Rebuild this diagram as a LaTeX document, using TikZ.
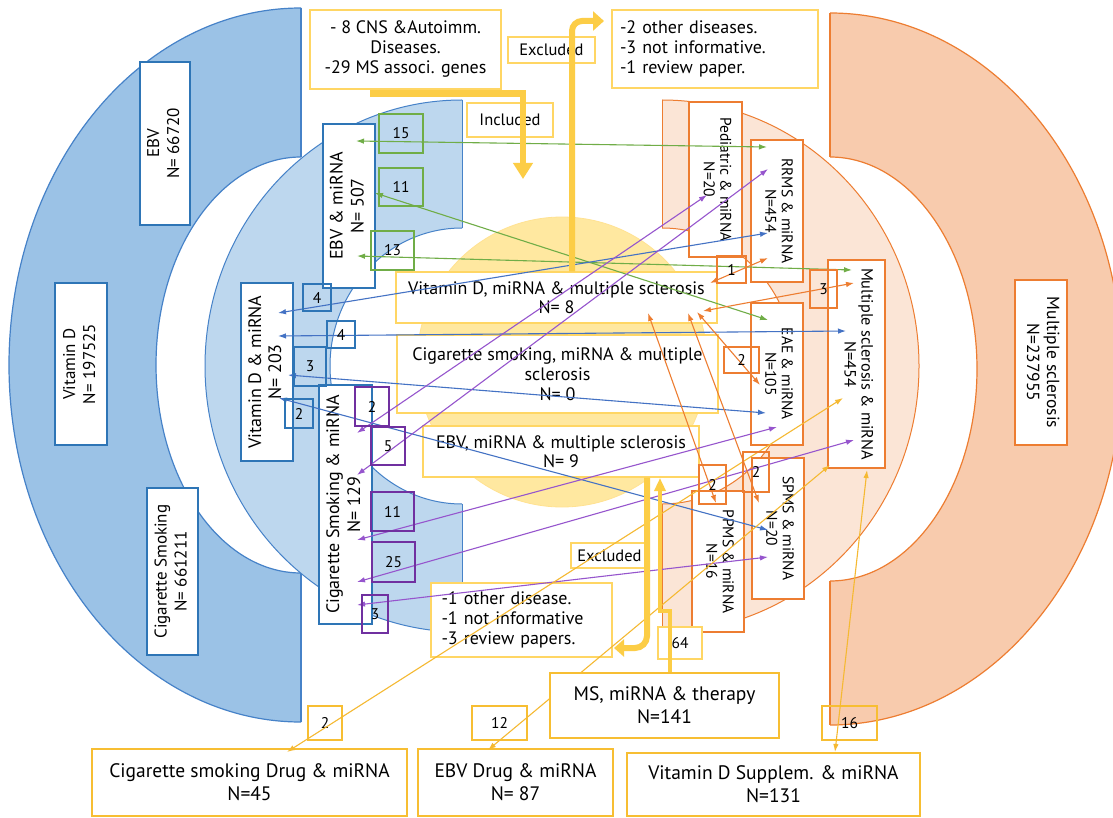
\documentclass[tikz,border=0pt]{standalone}
\usepackage{fontspec}
\setmainfont{PT Sans}
\usepackage{graphicx}
\usetikzlibrary{arrows.meta,calc}

\definecolor{ringblue}{RGB}{155,194,230}
\definecolor{ringbluedraw}{RGB}{70,130,200}
\definecolor{lightblue}{RGB}{189,215,238}
\definecolor{ringorange}{RGB}{248,203,173}
\definecolor{ringorangedraw}{RGB}{237,125,49}
\definecolor{lightorange}{RGB}{251,229,214}
\definecolor{discyellow}{RGB}{255,232,160}
\definecolor{yelbd}{RGB}{255,214,100}
\definecolor{yelthick}{RGB}{247,190,50}
\definecolor{flowyel}{RGB}{252,205,70}
\definecolor{boxblue}{RGB}{46,117,182}
\definecolor{boxgreen}{RGB}{112,173,71}
\definecolor{boxpurple}{RGB}{112,48,160}
\definecolor{arrgreen}{RGB}{112,173,71}
\definecolor{arrblue}{RGB}{68,114,196}
\definecolor{arrpurple}{RGB}{150,85,205}
\definecolor{arrorange}{RGB}{237,125,49}
\definecolor{arryellow}{RGB}{245,185,50}

\newcommand\fs[2]{\fontsize{#1}{#2}\selectfont}
\newcommand\rotL[1]{\rotatebox{90}{\begin{tabular}{@{}c@{}}#1\end{tabular}}}
\newcommand\rotR[1]{\rotatebox{-90}{\begin{tabular}{@{}c@{}}#1\end{tabular}}}
% style, x1, y1, x2, y2, text, name
\newcommand\mkbox[7]{\node[#1, minimum width={#4-#2}, minimum height={#5-#3}] (#7) at ({(#2+#4)/2},{(#3+#5)/2}) {#6};}
% colour, x1, y1, x2, y2, name
\newcommand\lnk[6]{\coordinate (#6a) at (#2,#3); \coordinate (#6b) at (#4,#5); \draw[link,#1] (#6a) -- (#6b);}

\tikzset{
  box/.style={draw, fill=white, inner sep=0pt, align=center, line width=1.4pt},
  bbox/.style={box, draw=boxblue},
  obox/.style={box, draw=ringorangedraw, font=\fs{15.5}{16.5}},
  ybox/.style={box, draw=yelbd, line width=1.3pt},
  ybig/.style={box, draw=yelthick, line width=2.4pt, font=\fs{19.5}{23}},
  nb/.style={draw, inner sep=0pt, line width=1.3pt, font=\fs{15.5}{17}},
  link/.style={line width=1.1pt, {Latex[length=8pt,width=5.5pt]}-{Latex[length=8pt,width=5.5pt]}},
  flow/.style={draw=flowyel, line width=6.5pt},
}

\begin{document}
\begin{tikzpicture}[x=1pt,y=-1pt]
\useasboundingbox (0,0) rectangle (1113,818);
\fill[white] (0,0) rectangle (1113,818);

% outer blue ring
\begin{scope}
  \clip (0,0) rectangle (301,818);
  \path[fill=ringblue, draw=ringbluedraw, line width=1.2pt, even odd rule]
    (301,365) ellipse[x radius=292, y radius=357]
    (301,365) ellipse[x radius=145, y radius=208];
\end{scope}
\draw[ringbluedraw, line width=1.2pt] (301,8) -- (301,157) (301,573) -- (301,722);

% outer orange ring
\begin{scope}
  \clip (830,0) rectangle (1113,818);
  \path[fill=ringorange, draw=ringorangedraw, line width=1.2pt, even odd rule]
    (830,369) ellipse[x radius=292, y radius=356]
    (830,369) ellipse[x radius=147, y radius=212];
\end{scope}
\draw[ringorangedraw, line width=1.2pt] (830,13) -- (830,157) (830,581) -- (830,725);

% light blue half ring
\begin{scope}
  \clip (0,0) rectangle (462,818);
  \path[fill=lightblue, draw=ringbluedraw, line width=1pt, even odd rule]
    (462,366) ellipse[x radius=257, y radius=266]
    (462,366) ellipse[x radius=132, y radius=138];
\end{scope}
\draw[ringbluedraw, line width=1pt] (462,100) -- (462,228) (462,504) -- (462,632);

% light orange half ring
\begin{scope}
  \clip (662,0) rectangle (1113,818);
  \path[fill=lightorange, draw=ringorangedraw, line width=1pt, even odd rule]
    (662,366) ellipse[x radius=257, y radius=266]
    (662,366) ellipse[x radius=132, y radius=138];
\end{scope}
\draw[ringorangedraw, line width=1pt] (662,100) -- (662,228) (662,504) -- (662,632);

% yellow disc
\path[fill=discyellow, draw=yelbd!70, line width=0.8pt] (562,362) circle[radius=145];

% blue boxes
\mkbox{bbox,font=\fs{17}{20}}{140}{62}{190}{225}{\rotL{EBV\\N= 66720}}{ebvout}
\mkbox{bbox,font=\fs{17}{20}}{55}{283}{107}{445}{\rotL{Vitamin D\\N= 197525}}{vdout}
\mkbox{bbox,font=\fs{17}{20}}{147}{488}{198}{655}{\rotL{Cigarette Smoking\\N= 661211}}{csout}
\mkbox{bbox,font=\fs{18}{21}}{323}{124}{375}{288}{\rotL{EBV \& miRNA\\N= 507}}{ebvmir}
\mkbox{bbox,font=\fs{18}{20}}{241}{283}{293}{461}{\rotL{Vitamin D \& miRNA\\N= 203}}{vdmir}
\mkbox{bbox,font=\fs{18}{21}}{319}{385}{372}{624}{\rotL{Cigarette Smoking \& miRNA\\N= 129}}{csmir}

% orange boxes
\mkbox{obox}{689}{102}{742}{257}{\rotR{Pediatric \& miRNA\\N=20}}{ped}
\mkbox{obox}{751}{140}{803}{282}{\rotR{RRMS \& miRNA\\N=454}}{rrms}
\mkbox{obox,font=\fs{16.3}{17}}{828}{260}{885}{468}{\rotR{Multiple sclerosis \& miRNA\\N=454}}{msmir}
\mkbox{obox}{751}{303}{803}{445}{\rotR{EAE \& miRNA\\N=105}}{eae}
\mkbox{obox}{752}{458}{804}{599}{\rotR{SPMS \& miRNA\\N=20}}{spms}
\mkbox{obox}{692}{491}{744}{632}{\rotR{PPMS \& miRNA\\N=16}}{ppms}
\mkbox{obox,font=\fs{17.5}{20}}{1015}{280}{1067}{445}{\rotR{Multiple sclerosis\\N=237955}}{msout}

% yellow boxes
\mkbox{ybox,font=\fs{18}{20}}{310}{10}{501}{89}{- 8 CNS \&Autoimm.\\Diseases.\\-29 MS associ. genes}{topl}
\mkbox{ybox,font=\fs{16.5}{18}}{508}{37}{595}{63}{Excluded}{extop}
\mkbox{ybox,font=\fs{16.5}{18}}{467}{103}{553}{137}{Included}{incl}
\mkbox{ybox,font=\fs{18}{20},align=left,text width=190pt}{612}{10}{818}{88}{-2 other diseases.\\-3 not informative.\\-1 review paper.}{topr}
\mkbox{ybox,font=\fs{18}{19}}{396}{272}{717}{323}{Vitamin D, miRNA \& multiple sclerosis\\N= 8}{vdc}
\mkbox{ybox,font=\fs{18}{20}}{397}{335}{718}{413}{Cigarette smoking, miRNA \& multiple\\sclerosis\\N= 0}{csc}
\mkbox{ybox,font=\fs{18}{19}}{423}{426}{699}{477}{EBV, miRNA \& multiple sclerosis\\N= 9}{ebvc}
\mkbox{ybox,font=\fs{16.5}{18}}{571}{543}{648}{568}{Excluded}{exbot}
\mkbox{ybox,font=\fs{18}{20},align=left,text width=160pt}{431}{583}{612}{657}{-1 other disease.\\-1 not informative\\-3 review papers.}{botl}
\mkbox{ybox,font=\fs{15.5}{17}}{658}{627}{702}{659}{64}{n64}
\mkbox{ybig}{92}{749}{407}{816}{Cigarette smoking Drug \& miRNA\\N=45}{cigdrug}
\mkbox{ybig}{418}{749}{613}{816}{EBV Drug \& miRNA\\N= 87}{ebvdrug}
\mkbox{ybig}{627}{753}{920}{816}{Vitamin D Supplem. \& miRNA\\N=131}{vdsupp}
\mkbox{box,draw=yelthick,line width=2.2pt,fill=none,font=\fs{15.5}{17}}{308}{706}{342}{740}{2}{ny2}
\mkbox{box,draw=yelthick,line width=2.2pt,fill=none,font=\fs{15.5}{17}}{472}{706}{527}{740}{12}{ny12}
\mkbox{box,draw=yelthick,line width=2.2pt,fill=none,font=\fs{15.5}{17}}{822}{706}{877}{740}{16}{ny16}

% thin connectors
\lnk{arrgreen}{356}{141}{767}{147}{g15}
\lnk{arrgreen}{375}{193}{768}{320}{g11}
\lnk{arrgreen}{357}{256}{852}{270}{g13}
\lnk{arrblue}{278}{313}{768}{233}{b4a}
\lnk{arrblue}{278}{336}{846}{331}{b4b}
\lnk{arrblue}{288}{375}{766}{413}{b3}
\lnk{arrblue}{279}{398}{768}{530}{b2}
\lnk{arrpurple}{357}{433}{707}{195}{p2}
\lnk{arrpurple}{357}{475}{768}{169}{p5}
\lnk{arrpurple}{357}{540}{777}{427}{p11}
\lnk{arrpurple}{357}{582}{854}{440}{p25}
\lnk{arrpurple}{357}{605}{768}{557}{p3}
\lnk{arrorange}{768}{258}{710}{283}{o1}
\lnk{arrorange}{854}{283}{703}{311}{o3}
\lnk{arrorange}{648}{313}{716}{503}{oppms}
\lnk{arrorange}{688}{313}{759}{503}{ospms}
\lnk{arrorange}{697}{312}{760}{385}{oeae}
\lnk{arryellow}{287}{752}{843}{398}{y2}
\lnk{arryellow}{488}{750}{830}{465}{y12}
\lnk{arryellow}{835}{752}{867}{470}{y16}

% therapy box on top of the yellow connector
\mkbox{ybig}{550}{673}{779}{738}{MS, miRNA \& therapy\\N=141}{therapy}

% thick flow arrows
\coordinate (inclTip) at (523,179);
\coordinate (exTopTip) at (604,21);
\coordinate (exBotTip) at (614,648);
\coordinate (upTip) at (660,478);
\draw[flow, -{Triangle[length=16pt,width=19pt]}] ([xshift=-35.5pt,yshift=-4pt]topl.south) -| (inclTip);
\draw[flow, line width=6pt, rounded corners=10pt, -{Triangle[length=11pt,width=19pt]}] ([xshift=15.5pt]vdc.north) |- (exTopTip);
\draw[flow, line width=6pt, rounded corners=12pt, -{Triangle[length=10pt,width=17pt]}] ([xshift=86pt]ebvc.south) |- (exBotTip);
\draw[flow, line width=4.5pt, -{Triangle[length=13pt,width=11pt]}] ([xshift=5.5pt]therapy.north) -- ++(0,-61) -- ++(-10,0) -- (upTip);

% number boxes
\mkbox{nb,draw=boxgreen}{379}{114}{423}{153}{15}{ng15}
\mkbox{nb,draw=boxgreen}{379}{168}{423}{206}{11}{ng11}
\mkbox{nb,draw=boxgreen}{371}{231}{414}{270}{13}{ng13}
\mkbox{nb,draw=boxblue}{303}{284}{331}{311}{4}{nb4a}
\mkbox{nb,draw=boxblue}{327}{321}{355}{348}{4}{nb4b}
\mkbox{nb,draw=boxblue}{294}{347}{326}{386}{3}{nb3}
\mkbox{nb,draw=boxblue}{285}{399}{313}{428}{2}{nb2}
\mkbox{nb,draw=boxpurple}{355}{387}{389}{426}{2}{np2}
\mkbox{nb,draw=boxpurple}{371}{427}{405}{465}{5}{np5}
\mkbox{nb,draw=boxpurple}{371}{492}{414}{531}{11}{np11}
\mkbox{nb,draw=boxpurple}{372}{542}{415}{582}{25}{np25}
\mkbox{nb,draw=boxpurple}{362}{595}{388}{633}{3}{np3}
\mkbox{nb,draw=ringorangedraw}{717}{256}{746}{283}{1}{no1}
\mkbox{nb,draw=ringorangedraw}{810}{270}{837}{308}{3}{no3}
\mkbox{nb,draw=ringorangedraw}{724}{347}{759}{373}{2}{no2e}
\mkbox{nb,draw=ringorangedraw}{743}{452}{769}{492}{2}{no2s}
\mkbox{nb,draw=ringorangedraw}{699}{465}{726}{504}{2}{no2p}
\end{tikzpicture}
\end{document}
